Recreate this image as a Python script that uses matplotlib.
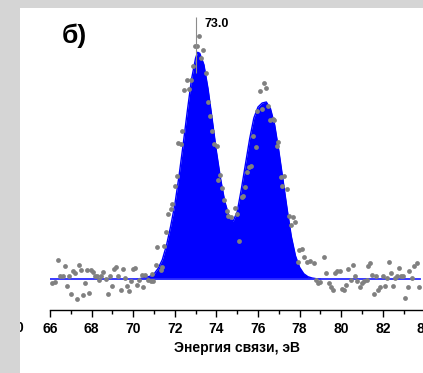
import matplotlib.pyplot as plt
from matplotlib.patches import Rectangle
from matplotlib.ticker import MultipleLocator

plt.rcParams['font.family'] = ['Liberation Sans', 'DejaVu Sans']

# измеренные точки (энергия связи, эВ; интенсивность, отн. ед.)
exp_x = [66.08, 66.24, 66.40, 66.48, 66.61, 66.72, 66.80, 66.91, 67.01, 67.12,
         67.20, 67.31, 67.41, 67.49, 67.60, 67.68, 67.76, 67.88, 67.96, 68.05,
         68.16, 68.24, 68.36, 68.45, 68.57, 68.69, 68.81, 68.89, 68.97, 69.08,
         69.17, 69.29, 69.40, 69.50, 69.61, 69.69, 69.80, 69.90, 69.98, 70.09,
         70.20, 70.30, 70.41, 70.49, 70.57, 70.73, 70.86, 70.89, 70.97, 71.08,
         71.16, 71.32, 71.40, 71.50, 71.58, 71.69, 71.80, 71.88, 72.01, 72.09,
         72.17, 72.30, 72.36, 72.46, 72.57, 72.69, 72.77, 72.86, 72.97, 73.09,
         73.17, 73.26, 73.37, 73.50, 73.58, 73.68, 73.78, 73.89, 74.02, 74.10,
         74.19, 74.29, 74.38, 74.50, 74.58, 74.69, 74.90, 74.99, 75.09, 75.22,
         75.30, 75.38, 75.46, 75.57, 75.67, 75.78, 75.89, 75.97, 76.10, 76.18,
         76.29, 76.39, 76.50, 76.58, 76.71, 76.79, 76.90, 76.98, 77.09, 77.17,
         77.27, 77.38, 77.50, 77.59, 77.67, 77.78, 77.90, 77.99, 78.10, 78.22,
         78.35, 78.51, 78.67, 78.79, 78.87, 78.99, 79.18, 79.27, 79.39, 79.50,
         79.60, 79.71, 79.79, 79.92, 80.03, 80.14, 80.24, 80.35, 80.46, 80.56,
         80.67, 80.78, 80.91, 80.99, 81.12, 81.23, 81.31, 81.39, 81.47, 81.58,
         81.68, 81.79, 81.87, 82.00, 82.11, 82.19, 82.30, 82.38, 82.48, 82.59,
         82.67, 82.80, 82.88, 82.99, 83.07, 83.19, 83.28, 83.39, 83.51, 83.64,
         83.76]
exp_y = [-4.0, -3.3, 18.7, 2.7, 3.3, 13.3, -6.7, 2.7, -14.7, 8.3,
         6.0, -20.0, 13.7, 8.7, -15.7, -4.0, 8.7, -14.0, 9.3, 6.7,
         3.3, 2.7, -0.7, 2.7, 6.7, 0.0, -14.7, 2.7, -7.3, 10.0,
         12.0, 3.3, -10.7, 10.0, 1.0, -6.7, -12.3, -2.3, 10.0, 11.0,
         -5.7, -0.7, 4.3, -8.0, 4.3, -1.3, -2.3, 5.3, -2.3, 14.3,
         32.0, 9.3, 11.7, 33.3, 46.7, 65.3, 70.0, 75.0, 93.3, 102.7,
         136.0, 135.3, 147.7, 189.3, 199.3, 190.0, 199.3, 212.7, 233.3, 233.3,
         243.3, 221.0, 229.3, 206.0, 176.7, 162.7, 148.3, 135.0, 132.7, 99.3,
         103.7, 91.0, 79.3, 67.7, 63.3, 62.0, 71.0, 65.3, 37.7, 82.0,
         82.7, 91.7, 107.0, 112.0, 112.7, 143.3, 132.0, 167.7, 187.7, 170.0,
         196.0, 191.0, 172.7, 158.7, 160.0, 159.3, 132.7, 136.7, 102.0, 93.3,
         103.3, 90.3, 63.3, 54.3, 62.0, 57.0, 16.7, 28.7, 30.0, 22.0,
         16.7, 17.7, 16.0, -0.7, -4.0, -3.3, 22.0, 6.0, -4.0, -8.0,
         -10.7, 6.0, 7.7, 7.7, -10.0, -11.3, -5.7, 10.0, -0.7, 14.3,
         2.7, -2.3, -8.0, -4.0, -2.3, -1.3, 12.7, 16.0, 4.3, -14.7,
         2.7, -10.7, -8.0, 3.3, -6.7, 1.0, 16.7, 6.0, -7.3, 1.0,
         2.7, 11.0, 3.3, 2.7, -19.0, -8.0, 7.7, 1.0, 12.7, 16.0,
         -8.0]

# огибающая аппроксимации
fit_x = [70.2, 70.4, 70.6, 70.8, 71.0, 71.2, 71.4, 71.6, 71.8, 72.0,
         72.2, 72.4, 72.6, 72.8, 73.0, 73.1, 73.2, 73.4, 73.6, 73.8,
         74.0, 74.2, 74.4, 74.6, 74.8, 75.0, 75.2, 75.4, 75.6, 75.8,
         76.0, 76.2, 76.4, 76.6, 76.8, 77.0, 77.2, 77.4, 77.6, 77.8,
         78.0, 78.2, 78.4, 78.6, 78.8, 79.0]
fit_y = [0.0, 0.7, 1.7, 2.7, 5.0, 10.7, 19.3, 33.7, 52.7, 74.3,
         102.7, 134.3, 167.7, 199.3, 221.0, 226.7, 225.7, 214.3, 190.0, 159.3,
         127.7, 100.3, 77.7, 63.3, 57.7, 67.3, 90.0, 115.3, 140.3, 161.0,
         172.0, 176.0, 177.0, 170.3, 154.3, 128.3, 99.3, 70.0, 42.7, 23.3,
         11.7, 5.3, 2.3, 1.0, 0.3, 0.0]

base_x = [66.0, 83.8]
base_y = [0.0, 0.0]

peak_pos = 73.0
peak_label = "73.0"

fig = plt.figure(figsize=(4.23, 3.73), dpi=100, facecolor='white')
W, H = 423, 373
ax = fig.add_axes([50 / W, (H - 310) / H, 374.4 / W, 302 / H])
ax.set_facecolor('none')

ax.fill_between(fit_x, fit_y, 0, color='#0000ff', lw=0, zorder=2)
ax.plot(fit_x, fit_y, color='#0000ff', lw=1.0, zorder=2)
ax.plot(base_x, base_y, color='#2b2bff', lw=1.3, zorder=2)
ax.scatter(exp_x, exp_y, s=12, color='#808080', lw=0, zorder=3)

ax.vlines(peak_pos, 206, 262, color='#8c8c8c', lw=0.8, zorder=4)
ax.text(peak_pos + 0.45, 255, peak_label, fontsize=9, fontweight='bold',
        ha='left', va='center')

ax.set_xlim(66, 84)
ax.set_ylim(-31, 271)
for s in ['left', 'right', 'top']:
    ax.spines[s].set_visible(False)
ax.spines['bottom'].set_linewidth(1.0)
ax.set_yticks([])
ax.xaxis.set_major_locator(MultipleLocator(2))
ax.xaxis.set_minor_locator(MultipleLocator(1))
ax.tick_params(axis='x', which='major', length=5, width=1.0, pad=3.5,
               labelsize=10)
ax.tick_params(axis='x', which='minor', length=3, width=1.0)
for lab in ax.get_xticklabels():
    lab.set_fontweight('bold')
ax.set_xlabel("Энергия связи, эВ", fontsize=10, fontweight='bold', labelpad=4)

fig.text(62 / W, 1 - 36 / H, "б)", fontsize=19, fontweight='bold',
         ha='left', va='center')
# обрезанная подпись соседней панели
fig.text(23 / W, 1 - 328 / H, "0", fontsize=10, fontweight='bold',
         ha='right', va='center', zorder=1)

# серая рамка слайда
fig.add_artist(Rectangle((0, 0), 20 / W, 1, transform=fig.transFigure,
                         color='#d5d5d5', lw=0, zorder=5))
fig.add_artist(Rectangle((0, 1 - 8 / H), 1, 8 / H, transform=fig.transFigure,
                         color='#d5d5d5', lw=0, zorder=5))

fig.savefig('out.png', dpi=100)
